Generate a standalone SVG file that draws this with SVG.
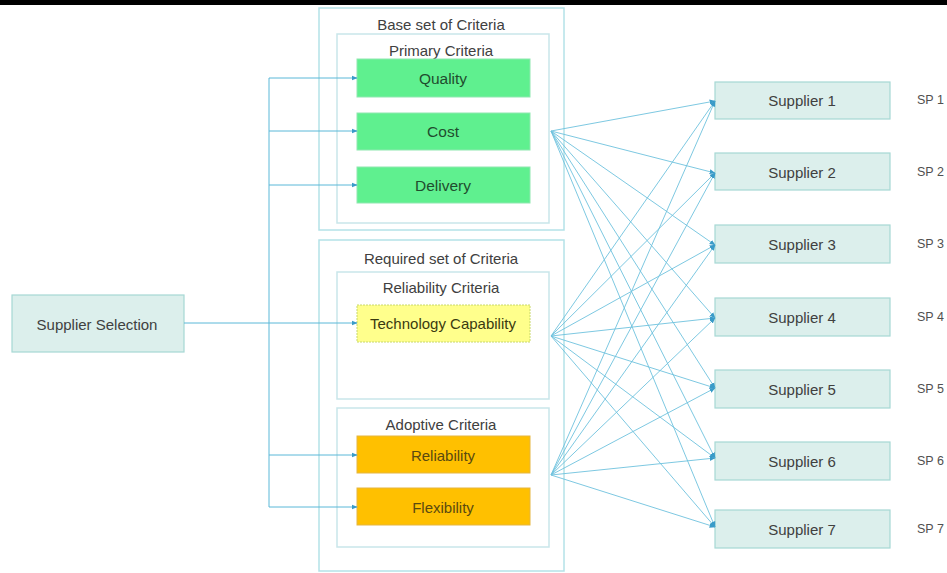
<svg xmlns="http://www.w3.org/2000/svg" width="947" height="573" viewBox="0 0 947 573">
<defs>
<marker id="arr" viewBox="0 0 10 10" refX="9" refY="5" markerWidth="6" markerHeight="6" orient="auto" markerUnits="userSpaceOnUse">
<path d="M0,1 L10,5 L0,9 z" fill="#3A9BC8"/>
</marker>
<style>
text{font-family:"Liberation Sans",Arial,sans-serif;font-size:15px;fill:#404040;text-anchor:middle;dominant-baseline:central}
.sp{font-size:12.5px;text-anchor:start;fill:#505050}
.frame{fill:#fff;stroke:#B4E2E8;stroke-width:1.5}
.inner{fill:#fff;stroke:#C9E6EA;stroke-width:1.5}
.green{fill:#5FF08F;stroke:#8FE8B0;stroke-width:1}
.yellow{fill:#FFFF8C;stroke:#C8D86A;stroke-width:1;stroke-dasharray:2 1}
.orange{fill:#FFC000;stroke:#E5B640;stroke-width:1}
.sup{fill:#DCEFEC;stroke:#A6D8D4;stroke-width:1.2}
.gt{fill:#1F4D2E;font-size:15.5px}
.ot{fill:#5A4A10}
.c{fill:none;stroke:#5BB8D8;stroke-width:1}
.f{fill:none;stroke:#6EC2DE;stroke-width:0.9}
</style>
</defs>
<rect x="0" y="0" width="947" height="5" fill="#000"/>

<g id="base-set">
<rect class="frame" x="319" y="8" width="245" height="222"/>
<text x="441" y="24">Base set of Criteria</text>
</g>
<g id="primary-criteria">
<rect class="inner" x="337" y="34" width="212" height="189"/>
<text x="441" y="50">Primary Criteria</text>
</g>
<g id="quality"><rect class="green" x="357" y="59" width="173" height="38"/><text class="gt" x="443" y="78">Quality</text></g>
<g id="cost"><rect class="green" x="357" y="113" width="173" height="37"/><text class="gt" x="443" y="131">Cost</text></g>
<g id="delivery"><rect class="green" x="357" y="167" width="173" height="36"/><text class="gt" x="443" y="185">Delivery</text></g>

<g id="required-set">
<rect class="frame" x="319" y="240" width="245" height="331"/>
<text x="441" y="258">Required set of Criteria</text>
</g>
<g id="reliability-criteria">
<rect class="inner" x="337" y="272" width="212" height="127"/>
<text x="441" y="287">Reliability Criteria</text>
</g>
<g id="technology-capability"><rect class="yellow" x="357" y="305" width="173" height="37"/><text x="443" y="323" style="fill:#3A3A10">Technology Capability</text></g>
<g id="adoptive-criteria">
<rect class="inner" x="337" y="408" width="212" height="139"/>
<text x="441" y="424">Adoptive Criteria</text>
</g>
<g id="reliability"><rect class="orange" x="357" y="436" width="173" height="37"/><text class="ot" x="443" y="455">Reliability</text></g>
<g id="flexibility"><rect class="orange" x="357" y="488" width="173" height="37"/><text class="ot" x="443" y="507">Flexibility</text></g>

<g id="supplier-selection"><rect class="sup" x="12" y="295" width="172" height="57"/><text x="97" y="324">Supplier Selection</text></g>

<g id="supplier-1"><rect class="sup" x="715" y="82" width="175" height="37"/><text x="802" y="100">Supplier 1</text><text class="sp" x="917" y="100">SP 1</text></g>
<g id="supplier-2"><rect class="sup" x="715" y="153" width="175" height="37"/><text x="802" y="172">Supplier 2</text><text class="sp" x="917" y="172">SP 2</text></g>
<g id="supplier-3"><rect class="sup" x="715" y="225" width="175" height="38"/><text x="802" y="244">Supplier 3</text><text class="sp" x="917" y="244">SP 3</text></g>
<g id="supplier-4"><rect class="sup" x="715" y="298" width="175" height="38"/><text x="802" y="317">Supplier 4</text><text class="sp" x="917" y="317">SP 4</text></g>
<g id="supplier-5"><rect class="sup" x="715" y="370" width="175" height="38"/><text x="802" y="389">Supplier 5</text><text class="sp" x="917" y="389">SP 5</text></g>
<g id="supplier-6"><rect class="sup" x="715" y="442" width="175" height="38"/><text x="802" y="461">Supplier 6</text><text class="sp" x="917" y="461">SP 6</text></g>
<g id="supplier-7"><rect class="sup" x="715" y="510" width="175" height="38"/><text x="802" y="529">Supplier 7</text><text class="sp" x="917" y="529">SP 7</text></g>

<g id="connectors">
<path class="c" d="M184,323 H269 M269,78 V507"/>
<path class="c" marker-end="url(#arr)" d="M269,78 H357"/>
<path class="c" marker-end="url(#arr)" d="M269,131 H357"/>
<path class="c" marker-end="url(#arr)" d="M269,185 H357"/>
<path class="c" marker-end="url(#arr)" d="M269,323 H357"/>
<path class="c" marker-end="url(#arr)" d="M269,455 H357"/>
<path class="c" marker-end="url(#arr)" d="M269,507 H357"/>

<path class="f" marker-end="url(#arr)" d="M551,131 L715,101"/>
<path class="f" marker-end="url(#arr)" d="M551,131 L715,173"/>
<path class="f" marker-end="url(#arr)" d="M551,131 L715,245"/>
<path class="f" marker-end="url(#arr)" d="M551,131 L715,318"/>
<path class="f" marker-end="url(#arr)" d="M551,131 L715,388"/>
<path class="f" marker-end="url(#arr)" d="M551,131 L715,458"/>
<path class="f" marker-end="url(#arr)" d="M551,131 L715,527"/>

<path class="f" marker-end="url(#arr)" d="M551,336 L715,101"/>
<path class="f" marker-end="url(#arr)" d="M551,336 L715,173"/>
<path class="f" marker-end="url(#arr)" d="M551,336 L715,245"/>
<path class="f" marker-end="url(#arr)" d="M551,336 L715,318"/>
<path class="f" marker-end="url(#arr)" d="M551,336 L715,388"/>
<path class="f" marker-end="url(#arr)" d="M551,336 L715,458"/>
<path class="f" marker-end="url(#arr)" d="M551,336 L715,527"/>

<path class="f" marker-end="url(#arr)" d="M551,475 L715,101"/>
<path class="f" marker-end="url(#arr)" d="M551,475 L715,173"/>
<path class="f" marker-end="url(#arr)" d="M551,475 L715,245"/>
<path class="f" marker-end="url(#arr)" d="M551,475 L715,318"/>
<path class="f" marker-end="url(#arr)" d="M551,475 L715,388"/>
<path class="f" marker-end="url(#arr)" d="M551,475 L715,458"/>
<path class="f" marker-end="url(#arr)" d="M551,475 L715,527"/>
</g>
</svg>
